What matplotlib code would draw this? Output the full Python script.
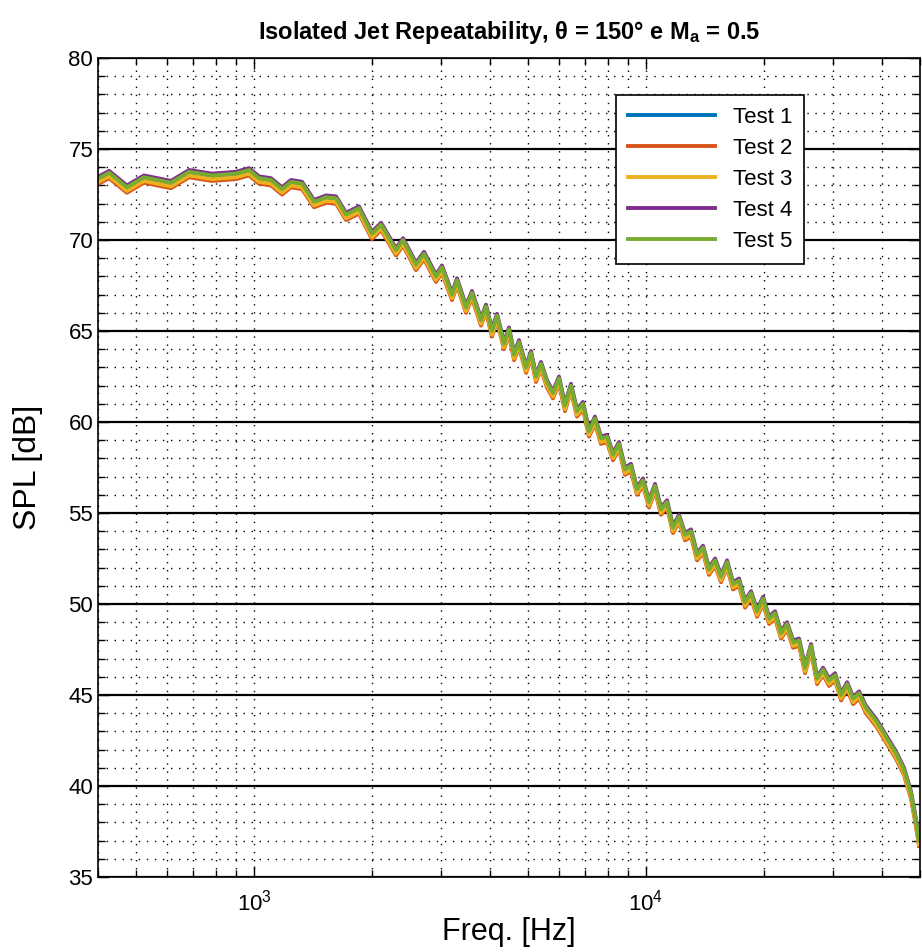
import numpy as np
import matplotlib
matplotlib.use('Agg')
import matplotlib.pyplot as plt
from matplotlib.ticker import LogLocator, MultipleLocator, NullFormatter

plt.rcParams['font.family'] = ['Liberation Sans', 'DejaVu Sans']
plt.rcParams['mathtext.fontset'] = 'custom'
plt.rcParams['mathtext.rm'] = 'Liberation Sans'
plt.rcParams['mathtext.bf'] = 'Liberation Sans:bold'

# spectrum (centre of the band, the ripple included)
freq = [402, 427, 474, 524, 614, 683, 781, 900, 971, 1030, 1105, 1179, 1243,
        1326, 1423, 1527, 1619, 1717, 1853, 2000, 2109, 2303, 2400, 2590, 2715,
        2913, 3017, 3200, 3296, 3474, 3598, 3794, 3907, 4047, 4168, 4343, 4473,
        4607, 4743, 4943, 5090, 5242, 5397,
        5589, 5790, 5998, 6213, 6436, 6667, 6906, 7154, 7411, 7677, 7953, 8238,
        8534, 8840, 9158, 9486, 9827, 10180, 10545, 10923, 11315, 11721, 12142,
        12578, 13029, 13497, 13981, 14483, 15003, 15541, 16099, 16677, 17275,
        17895, 18537, 19203, 19892, 20606, 21345, 22111, 22905, 23727, 24578,
        25460, 26374, 27321, 28301, 29317, 30369, 31459, 32588, 33758, 34970,
        36410, 38610, 40950, 43420, 45520, 47430, 48840, 49700]
spl = [73.4, 73.7, 72.9, 73.45, 73.15, 73.75, 73.55, 73.65, 73.85, 73.4, 73.3,
       72.8, 73.2, 73.1, 72.1, 72.35, 72.3, 71.4, 71.75, 70.35, 70.85, 69.45,
       70.0, 68.65, 69.25, 68.0, 68.5, 67.0, 67.8, 66.3, 67.1, 65.6, 66.35, 65.0,
       65.85, 64.3, 65.1, 63.7, 64.4, 63.0, 63.8, 62.5, 63.2,
       62.2, 61.6, 62.4, 60.9, 62.0, 60.6, 61.0, 59.5, 60.2, 59.1, 59.2, 58.2,
       58.8, 57.4, 57.6, 56.3, 56.8, 55.6, 56.5, 55.2, 55.6, 54.2, 54.8,
       53.8, 54.0, 52.7, 53.1, 51.9, 52.4, 51.5, 52.3, 51.1, 51.3,
       50.1, 50.6, 49.6, 50.3, 49.2, 49.5, 48.4, 48.9, 47.9, 48.0,
       46.5, 47.7, 45.9, 46.4, 45.8, 46.1, 45.0, 45.6, 44.8, 45.1,
       44.3, 43.6, 42.7, 41.8, 40.9, 39.6, 38.1, 37.0]

tests = ['Test 1', 'Test 2', 'Test 3', 'Test 4', 'Test 5']
shift = [-0.15, -0.3, -0.2, 0.1, 0.0]   # dB, how far each run sits from the centre
colors = ['#0072BD', '#D95319', '#EDB120', '#7E2F8E', '#77AC30']

fig = plt.figure(figsize=(9.22, 9.52), dpi=100)
ax = fig.add_axes([0.1063, 0.0788, 0.8915, 0.8602])

f = np.array(freq)
s = np.array(spl)
for name, d, c in zip(tests, shift, colors):
    ax.semilogx(f, s + d, color=c, lw=2.8, label=name)

ax.set_xlim(400, 50000)
ax.set_ylim(35, 80)
ax.yaxis.set_major_locator(MultipleLocator(5))
ax.yaxis.set_minor_locator(MultipleLocator(1))
ax.xaxis.set_major_locator(LogLocator(base=10, numticks=10))
ax.xaxis.set_minor_locator(LogLocator(base=10, subs=np.arange(2, 10), numticks=20))
ax.xaxis.set_minor_formatter(NullFormatter())

dots = (0, (1, 4.8))
ax.grid(True, axis='y', which='major', color='k', lw=1.6, ls='-')
ax.grid(True, axis='y', which='minor', color='k', lw=1, ls=dots)
ax.grid(True, axis='x', which='both', color='k', lw=1, ls=dots)
ax.set_axisbelow(True)

ax.tick_params(which='both', direction='in', top=True, right=True, colors='k')
ax.tick_params(which='major', length=8, width=1, labelsize=16)
ax.tick_params(which='minor', length=5, width=1)
ax.tick_params(axis='x', which='major', pad=9)
for sp in ax.spines.values():
    sp.set_linewidth(1.2)

ax.set_xlabel('Freq. [Hz]', fontsize=22, labelpad=1)
ax.set_ylabel('SPL [dB]', fontsize=23, labelpad=18)
ax.set_title(r'Isolated Jet Repeatability, θ = 150° e $\mathbf{M_a}$ = 0.5',
             fontsize=17, fontweight='bold', pad=14)

leg = ax.legend(loc='upper left', bbox_to_anchor=(0.630, 0.955), fontsize=16,
                fancybox=False, edgecolor='k', framealpha=1, handlelength=3.9,
                labelspacing=0.45, borderpad=0.55, borderaxespad=0)
leg.get_frame().set_linewidth(1.2)

plt.savefig('out.png')
